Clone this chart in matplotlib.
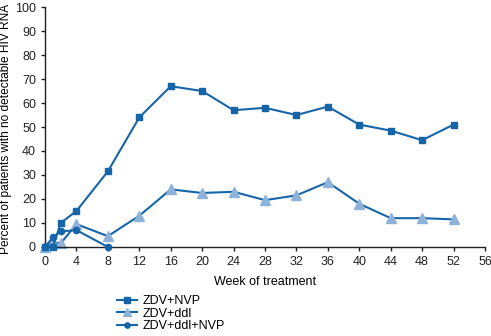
import matplotlib
matplotlib.use("Agg")
import matplotlib.pyplot as plt

weeks_nvp = [0, 1, 2, 4, 8, 12, 16, 20, 24, 28, 32, 36, 40, 44, 48, 52]
zdv_nvp = [0, 0, 10, 15, 31.5, 54, 67, 65, 57, 58, 55, 58.5, 51, 48.5, 44.5, 51]
weeks_ddi = [0, 1, 2, 4, 8, 12, 16, 20, 24, 28, 32, 36, 40, 44, 48, 52]
zdv_ddi = [0, 2, 1.5, 9.5, 4.5, 13, 24, 22.5, 23, 19.5, 21.5, 27, 18, 12, 12, 11.5]
weeks_triple = [0, 1, 2, 4, 8]
zdv_ddi_nvp = [0, 4, 6.5, 7, 0]
xticks = list(range(0, 57, 4))
yticks = list(range(0, 101, 10))

blue = "#1765a9"
light = "#8db3da"

plt.rcParams['font.family'] = ['Liberation Sans', 'DejaVu Sans']
fig = plt.figure(figsize=(4.91, 3.36), dpi=100)
ax = fig.add_axes([0.0917, 0.265, 0.896, 0.714])

ax.plot(weeks_nvp, zdv_nvp, color=blue, lw=1.5, marker='s', ms=4.5,
        mfc=blue, mec=blue, label='ZDV+NVP', clip_on=False, zorder=3)
ax.plot(weeks_ddi, zdv_ddi, color=blue, lw=1.5, marker='^', ms=6.5,
        mfc=light, mec=light, label='ZDV+ddl', clip_on=False, zorder=2)
ax.plot(weeks_triple, zdv_ddi_nvp, color=blue, lw=1.5, marker='o', ms=4.5,
        mfc=blue, mec=blue, label='ZDV+ddl+NVP', clip_on=False, zorder=4)

ax.set_xlim(0, 56)
ax.set_ylim(0, 100)
ax.set_xticks(xticks)
ax.set_yticks(yticks)
ax.tick_params(labelsize=9, length=3, width=1, colors='#222222')
for s in ['top', 'right']:
    ax.spines[s].set_visible(False)
for s in ['left', 'bottom']:
    ax.spines[s].set_linewidth(1)
    ax.spines[s].set_color('#222222')

ax.set_xlabel('Week of treatment', fontsize=9, labelpad=6)
ax.set_ylabel('Percent of patients with no detectable HIV RNA', fontsize=8.6, labelpad=4)
ax.yaxis.set_label_coords(-0.075, 0.49)

leg = fig.legend(loc='upper left', bbox_to_anchor=(0.225, 0.14), frameon=False,
                 fontsize=9, handlelength=1.6, handletextpad=0.5,
                 labelspacing=0.05, borderpad=0, markerscale=0.85)

fig.savefig('out.png', dpi=100)
